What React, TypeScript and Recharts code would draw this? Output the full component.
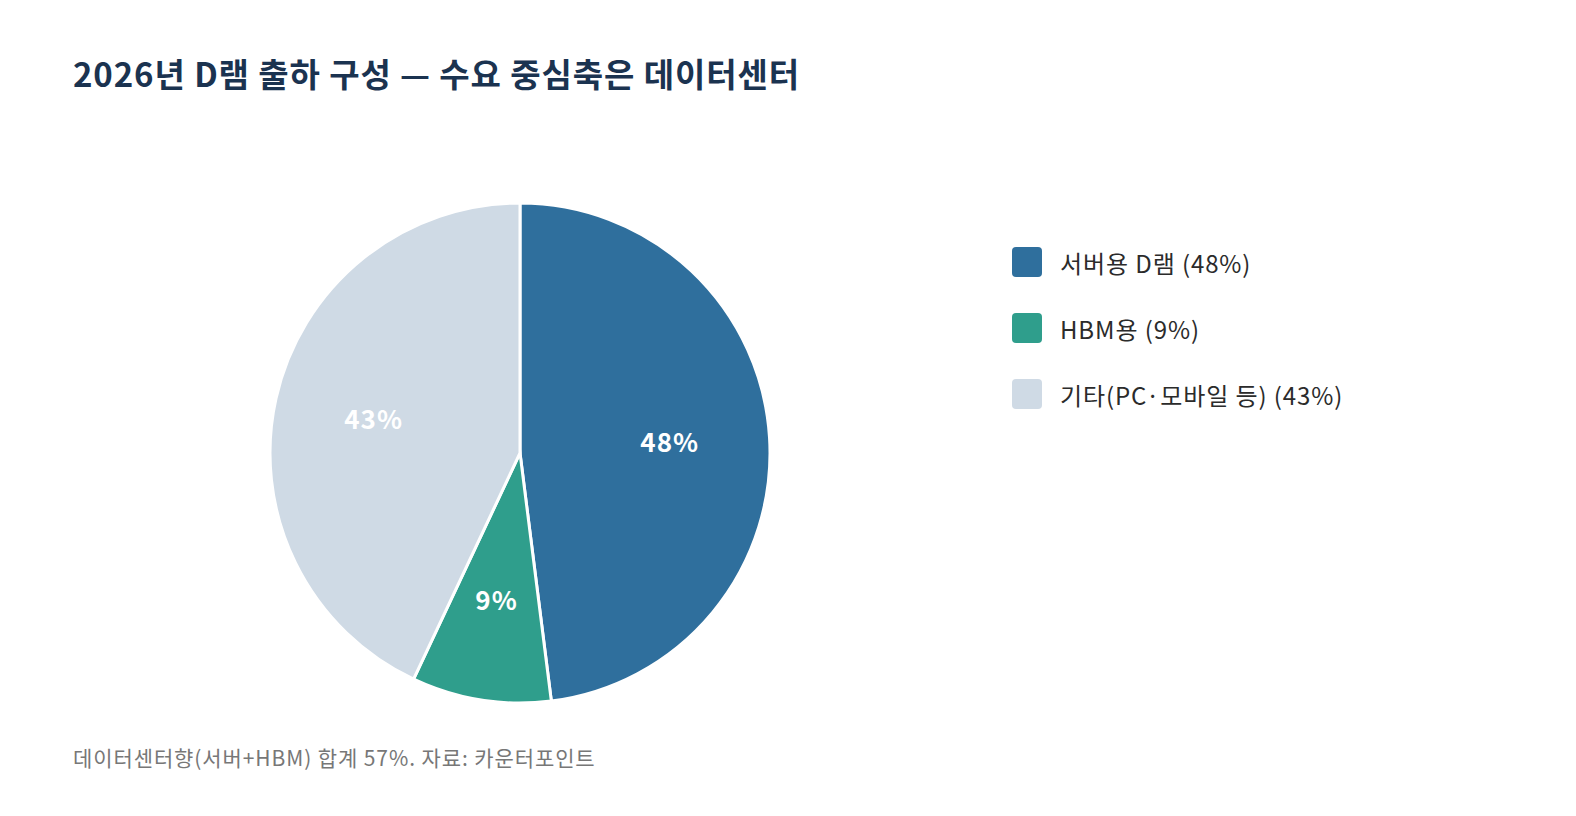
import React from "react"
import { Pie, PieChart } from "recharts"

const categories = ["서버용 D램", "HBM용", "기타(PC·모바일 등)"]
const shares = [48, 9, 43]
const colors = ["#2f6f9d", "#2f9e8c", "#cfdae5"]

const data = categories.map((name, i) => ({ name, value: shares[i], fill: colors[i] }))

const FONT = "'Noto Sans CJK KR', 'Noto Sans', sans-serif"
const RAD = Math.PI / 180

function SliceLabel(props: any) {
  const { cx, cy, midAngle, outerRadius, value } = props
  const r = outerRadius * 0.6
  const x = cx + r * Math.cos(-midAngle * RAD)
  const y = cy + r * Math.sin(-midAngle * RAD) - 3
  return (
    <text x={x} y={y} fill="#ffffff" textAnchor="middle" dominantBaseline="central" fontSize={26} fontWeight={700} fontFamily={FONT} letterSpacing={1}>
      {value}%
    </text>
  )
}

export default function App() {
  return (
    <div style={{ position: "absolute", left: 0, top: 0, width: 1576, height: 816, background: "#fff", fontFamily: FONT }}>
      <div style={{ position: "absolute", left: 73, top: 49, fontSize: 33, fontWeight: 700, color: "#1b3350", whiteSpace: "nowrap", letterSpacing: 0.9 }}>
        2026년 D램 출하 구성 — 수요 중심축은 데이터센터
      </div>
      <PieChart width={1576} height={816} margin={{ top: 0, right: 0, bottom: 0, left: 0 }} style={{ position: "absolute", left: 0, top: 0 }}>
        <Pie
          data={data}
          dataKey="value"
          nameKey="name"
          cx={520}
          cy={453}
          outerRadius={250}
          startAngle={90}
          endAngle={-270}
          stroke="#ffffff"
          strokeWidth={3}
          label={SliceLabel}
          labelLine={false}
          isAnimationActive={false}
        />
      </PieChart>
      <div style={{ position: "absolute", left: 1012, top: 247 }}>
        {data.map((d) => (
          <div key={d.name} style={{ display: "flex", alignItems: "center", height: 30, marginBottom: 36 }}>
            <div style={{ width: 30, height: 30, borderRadius: 4, background: d.fill, marginRight: 18, flexShrink: 0 }} />
            <span style={{ fontSize: 24, color: "#2b2b2b", whiteSpace: "nowrap", letterSpacing: 0.9 }}>
              {d.name} ({d.value}%)
            </span>
          </div>
        ))}
      </div>
      <div style={{ position: "absolute", left: 73, top: 742, fontSize: 21, color: "#777777", whiteSpace: "nowrap", letterSpacing: 0.9 }}>
        데이터센터향(서버+HBM) 합계 57%. 자료: 카운터포인트
      </div>
    </div>
  )
}
